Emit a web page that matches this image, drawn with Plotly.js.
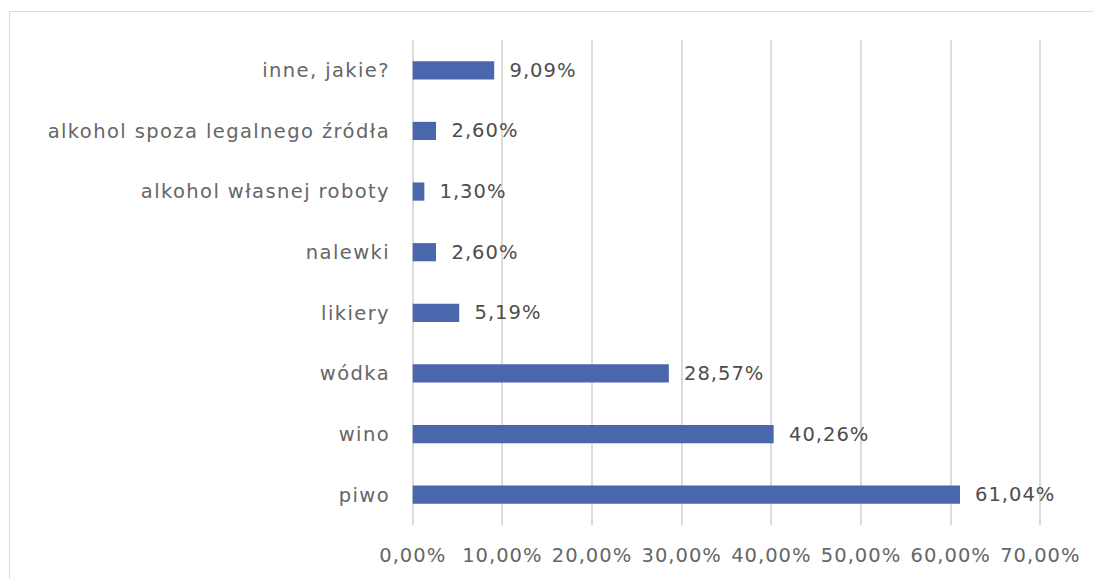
<!DOCTYPE html>
<html><head><meta charset="utf-8">
<script src="https://cdn.plot.ly/plotly-3.0.1.min.js"></script>
<style>
html,body{margin:0;padding:0;background:#fff;}
#wrap{position:relative;width:1093px;height:579px;overflow:hidden;}
#frame{position:absolute;left:9px;top:11px;width:1100px;height:600px;border:1px solid #d9d9d9;box-sizing:border-box;pointer-events:none;}
#chart{position:absolute;left:0;top:0;width:1093px;height:579px;}
#chart .ytick text{letter-spacing:1.4px;}
#chart .xtick text{letter-spacing:1px;}
#chart .annotation-text{letter-spacing:1px;}
</style></head>
<body><div id="wrap"><div id="chart"></div><div id="frame"></div></div>
<script>
const categories = ["piwo","wino","wódka","likiery","nalewki","alkohol własnej roboty","alkohol spoza legalnego źródła","inne, jakie?"];
const values = [61.04, 40.26, 28.57, 5.19, 2.60, 1.30, 2.60, 9.09];
const labels = ["61,04%","40,26%","28,57%","5,19%","2,60%","1,30%","2,60%","9,09%"];
const tickVals = [0,10,20,30,40,50,60,70];
const tickText = ["0,00%","10,00%","20,00%","30,00%","40,00%","50,00%","60,00%","70,00%"];

const font = "'DejaVu Sans', sans-serif";
const traces = [
  {type:'bar', orientation:'h', y:categories, x:values, marker:{color:'#4a66ac'}, hoverinfo:'skip'}
];
const annotations = values.map((v,i)=>({x:v, y:categories[i], xref:'x', yref:'y', text:labels[i], showarrow:false,
  xanchor:'left', yanchor:'middle', xshift:16, font:{family:font,size:19.5,color:'#4d4d4d'}}));
const layout = {
  width:1093, height:579, showlegend:false,
  margin:{l:410, r:50, t:40, b:54},
  paper_bgcolor:'rgba(0,0,0,0)', plot_bgcolor:'rgba(0,0,0,0)',
  bargap:0.7,
  annotations:annotations,
  xaxis:{range:[-0.3,70.3], tickvals:tickVals, ticktext:tickText, showgrid:true, gridcolor:'#dcdcdc', gridwidth:2,
         zeroline:false, showline:false, ticks:'', ticklabelstandoff:16,
         tickfont:{family:font,size:19.5,color:'#666666'}, fixedrange:true},
  yaxis:{type:'category', categoryorder:'array', categoryarray:categories, showgrid:false, zeroline:false, showline:false,
         ticks:'', ticklabelstandoff:19, tickfont:{family:font,size:19.5,color:'#666666'}, fixedrange:true}
};
Plotly.newPlot('chart', traces, layout, {staticPlot:true, displayModeBar:false});
</script></body></html>
